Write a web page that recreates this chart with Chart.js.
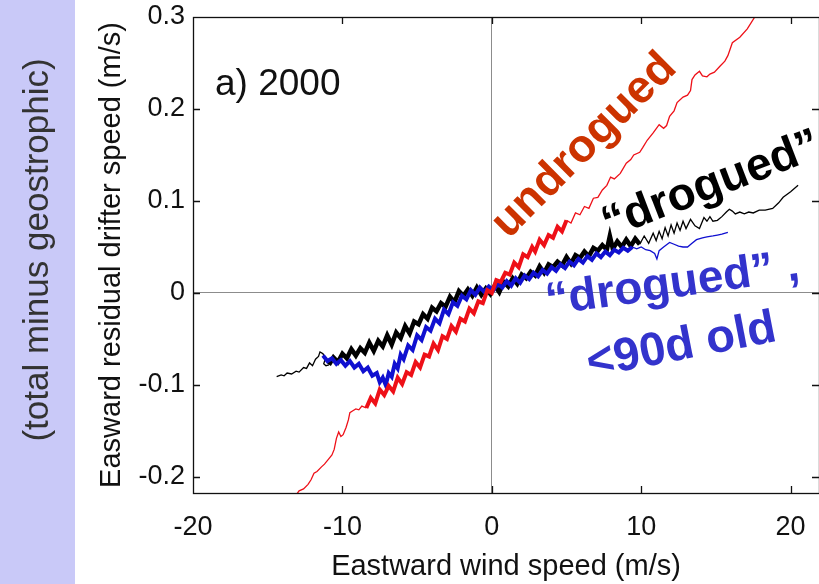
<!DOCTYPE html>
<html>
<head>
<meta charset="utf-8">
<script src="https://cdn.jsdelivr.net/npm/chart.js@4.4.1/dist/chart.umd.min.js"></script>
<style>
  html, body { margin: 0; padding: 0; background: #fff; }
  #wrap { width: 819px; height: 584px; }
</style>
</head>
<body>
<div id="wrap"><canvas id="drift" width="819" height="584"></canvas></div>
<script>
// Axis setup
const xTicks = [-20, -10, 0, 10, 20];
const xTickLabels = ['-20', '-10', '0', '10', '20'];
const yTicks = [-0.2, -0.1, 0, 0.1, 0.2, 0.3];
const yTickLabels = ['-0.2', '-0.1', '0', '0.1', '0.2', '0.3'];

// undrogued (red)
const redX = [-13.2, -12.9, -12.6, -12.3, -12.1, -11.9, -11.7, -11.4, -11.2, -10.9,
  -10.7, -10.55, -10.4, -10.25, -10.1, -9.95, -9.75, -9.6, -9.5, -9.3,
  -9.1, -8.9, -8.7, -8.4, -8.1, -7.8, -7.5, -7.2, -6.9, -6.6,
  -6.3, -6.0, -5.7, -5.4, -5.1, -4.8, -4.5, -4.2, -3.9, -3.6,
  -3.3, -3.0, -2.7, -2.4, -2.1, -1.8, -1.5, -1.2, -0.9, -0.6,
  -0.3, 0.0, 0.3, 0.6, 0.9, 1.2, 1.5, 1.8, 2.1, 2.4,
  2.7, 2.9, 3.2, 3.5, 3.8, 4.1, 4.4, 4.7, 5.0, 5.3,
  5.6, 5.9, 6.2, 6.5, 6.8, 7.1, 7.4, 7.7, 7.95, 8.2,
  8.6, 9.0, 9.3, 9.5, 9.9, 10.1, 10.4, 10.8, 11.2, 11.5,
  11.7, 11.9, 12.2, 12.4, 12.8, 13.1, 13.3, 13.4, 13.6, 13.9,
  14.1, 14.4, 14.6, 14.9, 15.3, 15.6, 15.8, 16.1, 16.6, 17.1,
  17.6, 18.0];
const redY = [-0.222, -0.215, -0.213, -0.208, -0.203, -0.196, -0.194, -0.189, -0.186, -0.180,
  -0.176, -0.170, -0.158, -0.151, -0.156, -0.154, -0.146, -0.138, -0.130, -0.128,
  -0.126, -0.127, -0.123, -0.125, -0.114, -0.120, -0.105, -0.111, -0.101, -0.107,
  -0.092, -0.099, -0.086, -0.089, -0.075, -0.081, -0.067, -0.069, -0.055, -0.062,
  -0.047, -0.050, -0.036, -0.042, -0.028, -0.031, -0.017, -0.022, -0.009, -0.011,
  0.003, 0.000, 0.014, 0.012, 0.022, 0.020, 0.033, 0.028, 0.042, 0.039,
  0.050, 0.045, 0.058, 0.052, 0.063, 0.060, 0.072, 0.067, 0.079, 0.076,
  0.087, 0.085, 0.094, 0.092, 0.103, 0.104, 0.112, 0.117, 0.126, 0.124,
  0.130, 0.141, 0.145, 0.150, 0.153, 0.158, 0.166, 0.174, 0.183, 0.179,
  0.182, 0.192, 0.198, 0.207, 0.213, 0.215, 0.220, 0.232, 0.237, 0.241,
  0.236, 0.235, 0.238, 0.240, 0.247, 0.252, 0.258, 0.272, 0.278, 0.287,
  0.300, 0.315];

// "drogued" (black)
const blackX = [-14.4, -14.1, -13.9, -13.7, -13.4, -13.1, -12.9, -12.6, -12.4, -12.2,
  -12.0, -11.8, -11.6, -11.5, -11.3, -11.15, -11.25, -11.1, -10.9, -10.6,
  -10.3, -10.0, -9.7, -9.4, -9.1, -8.8, -8.5, -8.2, -7.9, -7.6,
  -7.3, -7.0, -6.7, -6.4, -6.1, -5.8, -5.5, -5.2, -4.9, -4.6,
  -4.3, -4.0, -3.7, -3.4, -3.1, -2.8, -2.5, -2.2, -1.9, -1.6,
  -1.3, -1.0, -0.7, -0.4, -0.1, 0.2, 0.5, 0.8, 1.1, 1.4,
  1.7, 2.0, 2.3, 2.6, 2.9, 3.2, 3.5, 3.8, 4.1, 4.4,
  4.7, 5.0, 5.3, 5.6, 5.9, 6.2, 6.5, 6.8, 7.1, 7.4,
  7.7, 7.9, 8.1, 8.4, 8.7, 9.0, 9.3, 9.6, 9.9, 10.2,
  10.5, 10.8, 11.0, 11.2, 11.4, 11.6, 11.8, 12.0, 12.2, 12.4,
  12.6, 12.8, 13.0, 13.3, 13.6, 13.9, 14.2, 14.4, 14.6, 14.8,
  15.1, 15.4, 15.7, 15.9, 16.1, 16.3, 16.6, 16.9, 17.2, 17.5,
  17.9, 18.3, 18.8, 19.2, 19.5, 20.0, 20.5];
const blackY = [-0.091, -0.089, -0.090, -0.087, -0.088, -0.085, -0.086, -0.081, -0.082, -0.076,
  -0.079, -0.072, -0.069, -0.064, -0.066, -0.072, -0.077, -0.079, -0.078, -0.070,
  -0.075, -0.066, -0.071, -0.061, -0.068, -0.060, -0.065, -0.054, -0.063, -0.052,
  -0.058, -0.046, -0.056, -0.043, -0.049, -0.036, -0.044, -0.031, -0.034, -0.023,
  -0.028, -0.016, -0.020, -0.011, -0.015, -0.004, -0.010, 0.002, -0.003, 0.004,
  -0.003, 0.006, -0.002, 0.005, -0.001, 0.008, 0.001, 0.012, 0.007, 0.016,
  0.010, 0.020, 0.016, 0.023, 0.019, 0.029, 0.022, 0.031, 0.028, 0.034,
  0.030, 0.039, 0.032, 0.041, 0.038, 0.045, 0.040, 0.049, 0.046, 0.052,
  0.047, 0.062, 0.048, 0.056, 0.050, 0.058, 0.051, 0.059, 0.053, 0.062,
  0.054, 0.065, 0.057, 0.067, 0.059, 0.071, 0.062, 0.074, 0.065, 0.076,
  0.068, 0.078, 0.070, 0.080, 0.073, 0.070, 0.082, 0.078, 0.083, 0.078,
  0.079, 0.083, 0.088, 0.091, 0.089, 0.086, 0.088, 0.086, 0.088, 0.087,
  0.090, 0.090, 0.092, 0.098, 0.104, 0.110, 0.117];

// "drogued", <90d old (blue)
const blueX = [-11.3, -11.0, -10.7, -10.4, -10.1, -9.8, -9.5, -9.2, -8.9, -8.6,
  -8.3, -8.0, -7.7, -7.5, -7.3, -7.1, -6.9, -6.7, -6.5, -6.3,
  -6.1, -5.9, -5.6, -5.3, -5.0, -4.7, -4.4, -4.1, -3.8, -3.5,
  -3.2, -2.9, -2.6, -2.3, -2.0, -1.7, -1.4, -1.1, -0.8, -0.5,
  -0.2, 0.1, 0.4, 0.7, 1.0, 1.3, 1.6, 1.9, 2.2, 2.5,
  2.8, 3.1, 3.4, 3.7, 4.0, 4.3, 4.6, 4.9, 5.2, 5.5,
  5.8, 6.1, 6.4, 6.7, 7.0, 7.3, 7.6, 7.9, 8.2, 8.5,
  8.8, 9.1, 9.4, 9.7, 10.0, 10.3, 10.6, 10.9, 11.05, 11.2,
  11.5, 11.9, 12.2, 12.5, 12.8, 13.1, 13.4, 13.7, 14.1, 14.4,
  14.8, 15.1, 15.4, 15.8];
const blueY = [-0.068, -0.074, -0.071, -0.077, -0.073, -0.079, -0.074, -0.081, -0.077, -0.085,
  -0.081, -0.090, -0.087, -0.097, -0.092, -0.100, -0.087, -0.091, -0.077, -0.082,
  -0.067, -0.072, -0.057, -0.062, -0.046, -0.051, -0.037, -0.041, -0.028, -0.033,
  -0.018, -0.023, -0.010, -0.014, -0.003, -0.007, 0.003, -0.002, 0.006, 0.001,
  0.007, 0.003, 0.010, 0.006, 0.013, 0.008, 0.016, 0.011, 0.019, 0.015,
  0.022, 0.018, 0.025, 0.021, 0.028, 0.024, 0.031, 0.027, 0.034, 0.030,
  0.037, 0.033, 0.040, 0.036, 0.043, 0.039, 0.045, 0.041, 0.047, 0.044,
  0.049, 0.046, 0.050, 0.048, 0.050, 0.047, 0.046, 0.043, 0.037, 0.046,
  0.050, 0.055, 0.053, 0.051, 0.050, 0.050, 0.054, 0.058, 0.060, 0.061,
  0.062, 0.063, 0.064, 0.066];

// wind ranges where each curve is a dense, noisy band
const redBand = [-8.5, 5.0];
const blackBand = [-11.0, 10.0];
const blueBand = [-11.3, 9.5];

const FONT = '"Liberation Sans", Arial, Helvetica, sans-serif';

function toPoints(xs, ys) {
    return xs.map((x, i) => ({ x: x, y: ys[i] }));
}

function bandWidth(range, thick, thin) {
    return ctx => (ctx.p0.parsed.x >= range[0] && ctx.p1.parsed.x <= range[1]) ? thick : thin;
}

// Text labels written on the plot, anchored in data units
const notes = [
    { text: 'undrogued', x: 6.2, y: 0.160, angle: -45, size: 46, color: '#cc3300' },
    { text: '\u201Cdrogued\u201D', x: 14.7, y: 0.117, angle: -21, size: 46, color: '#000000' },
    { text: '\u201Cdrogued\u201D ,', x: 12.1, y: 0.009, angle: -8, size: 46, color: '#3333cc' },
    { text: '<90d old', x: 12.7, y: -0.058, angle: -11, size: 47, color: '#3333cc' }
];

const decorPlugin = {
    id: 'decor',
    beforeDraw(chart) {
        const ctx = chart.ctx;
        ctx.save();
        ctx.fillStyle = '#ffffff';
        ctx.fillRect(0, 0, chart.width, chart.height);
        // lavender side band
        ctx.fillStyle = '#c9c9f8';
        ctx.fillRect(0, 0, 75, chart.height);
        ctx.translate(38, 250);
        ctx.rotate(-Math.PI / 2);
        ctx.font = '35px ' + FONT;
        ctx.fillStyle = '#333333';
        ctx.textAlign = 'center';
        ctx.textBaseline = 'middle';
        ctx.fillText('(total minus geostrophic)', 0, 0);
        ctx.restore();
    },
    afterDatasetsDraw(chart) {
        const ctx = chart.ctx;
        const area = chart.chartArea;
        const xs = chart.scales.x;
        const ys = chart.scales.y;
        const tick = 7;
        ctx.save();
        // box frame
        ctx.strokeStyle = '#111';
        ctx.lineWidth = 1.3;
        ctx.strokeRect(area.left + 0.5, area.top + 0.5, area.right - area.left, area.bottom - area.top);
        // inward tick marks on all four sides
        ctx.beginPath();
        xTicks.forEach(v => {
            const px = Math.round(xs.getPixelForValue(v)) + 0.5;
            if (px <= area.left + 1 || px >= area.right - 1) return;
            ctx.moveTo(px, area.bottom);
            ctx.lineTo(px, area.bottom - tick);
            ctx.moveTo(px, area.top);
            ctx.lineTo(px, area.top + tick);
        });
        yTicks.forEach(v => {
            const py = Math.round(ys.getPixelForValue(v)) + 0.5;
            if (py <= area.top + 1 || py >= area.bottom - 1) return;
            ctx.moveTo(area.left, py);
            ctx.lineTo(area.left + tick, py);
            ctx.moveTo(area.right, py);
            ctx.lineTo(area.right - tick, py);
        });
        ctx.stroke();

        // panel label
        ctx.fillStyle = '#111';
        ctx.font = '37px ' + FONT;
        ctx.textAlign = 'left';
        ctx.textBaseline = 'alphabetic';
        ctx.fillText('a) 2000', area.left + 22, area.top + 78);

        // curve names
        notes.forEach(n => {
            ctx.save();
            ctx.translate(xs.getPixelForValue(n.x), ys.getPixelForValue(n.y));
            ctx.rotate(n.angle * Math.PI / 180);
            ctx.font = 'bold ' + n.size + 'px ' + FONT;
            ctx.fillStyle = n.color;
            ctx.textAlign = 'center';
            ctx.textBaseline = 'middle';
            ctx.fillText(n.text, 0, 0);
            ctx.restore();
        });
        ctx.restore();
    }
};

const zeroLine = c => (c.tick && c.tick.value === 0) ? '#8c8c8c' : 'rgba(0,0,0,0)';

const driftChart = new Chart(document.getElementById('drift'), {
    type: 'scatter',
    data: {
        datasets: [
            {
                label: 'undrogued',
                data: toPoints(redX, redY),
                showLine: true,
                borderColor: '#ee1018',
                borderWidth: 1.3,
                segment: { borderWidth: bandWidth(redBand, 4, 1.3) },
                pointRadius: 0,
                tension: 0
            },
            {
                label: 'drogued <90d',
                data: toPoints(blueX, blueY),
                showLine: true,
                borderColor: '#1010d0',
                borderWidth: 1.3,
                segment: { borderWidth: bandWidth(blueBand, 4, 1.3) },
                pointRadius: 0,
                tension: 0
            },
            {
                label: 'drogued',
                data: toPoints(blackX, blackY),
                showLine: true,
                borderColor: '#000000',
                borderWidth: 1.3,
                segment: { borderWidth: bandWidth(blackBand, 4.5, 1.3) },
                pointRadius: 0,
                tension: 0
            }
        ]
    },
    options: {
        responsive: false,
        animation: false,
        layout: { padding: { left: 75, top: 17, right: 0, bottom: 0 } },
        plugins: {
            legend: { display: false },
            tooltip: { enabled: false }
        },
        scales: {
            x: {
                type: 'linear',
                min: -20,
                max: 21.9,
                afterBuildTicks: s => { s.ticks = xTicks.map(v => ({ value: v })); },
                afterFit: s => { s.height = 91; },
                border: { display: false },
                grid: { drawTicks: true, tickLength: 18, tickColor: 'rgba(0,0,0,0)', color: zeroLine, lineWidth: 1 },
                ticks: {
                    padding: 0,
                    color: '#111',
                    maxRotation: 0,
                    font: { family: FONT, size: 27 },
                    callback: (v, i) => xTickLabels[i]
                },
                title: {
                    display: true,
                    text: 'Eastward wind speed (m/s)',
                    color: '#111',
                    font: { family: FONT, size: 29 },
                    padding: { top: 0, bottom: 0 }
                }
            },
            y: {
                type: 'linear',
                min: -0.2174,
                max: 0.3,
                afterBuildTicks: s => { s.ticks = yTicks.map(v => ({ value: v })); },
                afterFit: s => { s.width = 118; },
                border: { display: false },
                grid: { drawTicks: true, tickLength: 8, tickColor: 'rgba(0,0,0,0)', color: zeroLine, lineWidth: 1 },
                ticks: {
                    padding: 0,
                    color: '#111',
                    font: { family: FONT, size: 27, lineHeight: 1 },
                    callback: (v, i) => yTickLabels[i]
                },
                title: {
                    display: true,
                    text: 'Easward residual drifter speed (m/s)',
                    color: '#111',
                    font: { family: FONT, size: 29 },
                    padding: { top: 20, bottom: 0 }
                }
            }
        }
    },
    plugins: [decorPlugin]
});
</script>
</body>
</html>
